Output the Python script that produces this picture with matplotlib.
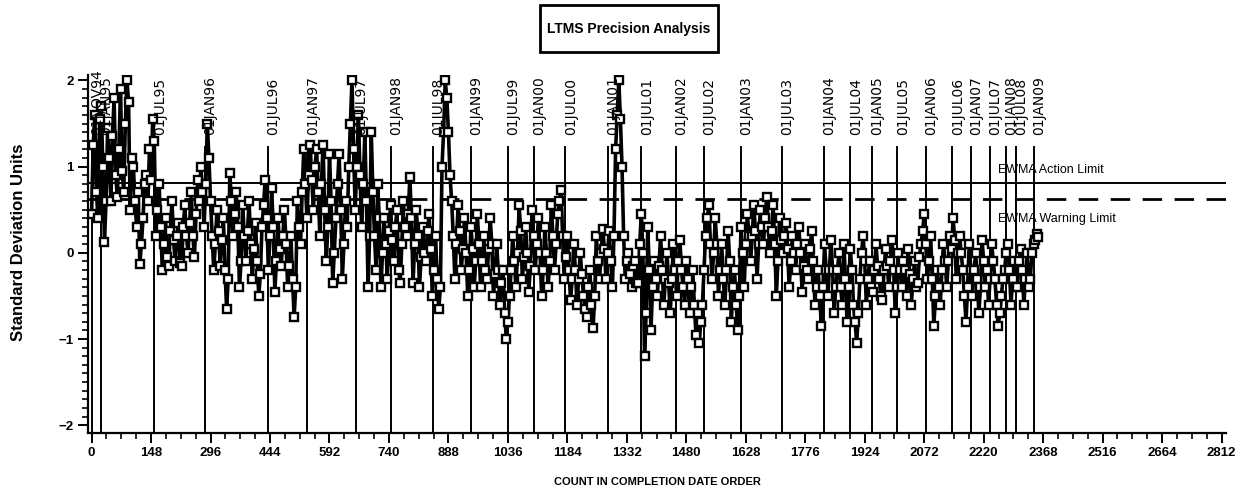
import numpy as np
import matplotlib
matplotlib.use("Agg")
import matplotlib.pyplot as plt
from matplotlib.patches import Rectangle

# EWMA precision index, one value every 4 tests in completion-date order
COUNT_STEP = 4
ewma_values = [
    0.45, 1.25, 1.60, 0.70, 0.40, 1.55, 1.70, 1.00, 0.12, 0.60, 1.45, 1.10, 0.60, 1.35, 1.80, 0.90, 0.65, 1.20, 1.90, 0.95,
    0.70, 1.50, 2.00, 1.75, 0.50, 1.10, 1.00, 0.60, 0.30, 0.70, -0.13, 0.10, 0.40, 0.80, 0.90, 0.60, 1.20, 0.85, 1.55, 1.30,
    0.20, 0.50, 0.80, 0.30, -0.20, 0.10, 0.40, -0.05, -0.15, 0.25, 0.60, 0.15, -0.10, 0.20, 0.35, -0.12, -0.15, 0.30, 0.55, 0.20,
    0.00, 0.35, 0.70, 0.20, -0.05, 0.45, 0.85, 0.60, 1.00, 0.70, 0.30, 0.80, 1.50, 1.10, 0.60, 0.20, -0.20, 0.10, 0.50, 0.25,
    -0.15, 0.15, 0.40, -0.20, -0.65, -0.30, 0.93, 0.60, 0.20, 0.45, 0.70, 0.30, -0.40, -0.10, 0.55, 0.20, -0.10, 0.25, 0.60, 0.10,
    -0.30, 0.05, 0.35, -0.10, -0.50, -0.25, 0.30, 0.55, 0.85, 0.40, -0.20, 0.20, 0.75, 0.30, -0.45, -0.10, 0.40, 0.05, -0.15, 0.20,
    0.50, 0.10, -0.40, -0.15, 0.20, -0.30, -0.75, -0.40, 0.60, 0.30, 0.10, 0.70, 1.20, 0.80, 0.40, 0.90, 1.25, 0.85, 0.50, 1.00,
    1.20, 0.70, 0.20, 0.80, 1.25, 0.50, -0.10, 0.30, 1.15, 0.60, -0.35, 0.00, 0.40, 0.80, 1.15, 0.50, -0.30, 0.10, 0.60, 0.30,
    1.00, 1.50, 2.00, 1.20, 0.50, 1.00, 1.60, 0.90, 0.30, 0.80, 1.40, 0.60, -0.40, 0.20, 1.40, 0.70, 0.20, -0.20, 0.80, 0.40,
    -0.40, 0.00, 0.40, 0.10, -0.30, 0.25, 0.55, 0.15, -0.10, 0.30, 0.50, -0.20, -0.35, 0.10, 0.60, 0.30, 0.20, 0.45, 0.88, 0.40,
    -0.35, 0.10, 0.50, 0.20, -0.40, -0.05, 0.30, 0.00, -0.10, 0.25, 0.45, 0.05, -0.50, -0.20, 0.20, -0.30, -0.65, -0.40, 1.00, 1.40,
    2.00, 1.80, 1.40, 0.90, 0.60, 0.20, -0.30, 0.10, 0.55, 0.25, -0.20, 0.05, 0.40, 0.00, -0.50, -0.20, 0.30, 0.05, -0.40, -0.10,
    0.45, 0.10, -0.40, -0.10, 0.20, -0.20, -0.30, 0.05, 0.40, 0.10, -0.50, -0.25, 0.10, -0.20, -0.60, -0.35, -0.20, -0.70, -1.00, -0.80,
    -0.50, -0.20, 0.20, -0.10, -0.40, 0.00, 0.55, 0.25, -0.30, -0.05, 0.30, 0.00, -0.45, -0.15, 0.50, 0.20, -0.20, 0.10, 0.40, 0.00,
    -0.50, -0.20, 0.30, 0.00, -0.40, -0.10, 0.55, 0.20, -0.20, 0.10, 0.45, 0.60, 0.73, 0.20, -0.30, -0.05, 0.20, -0.20, -0.55, -0.30,
    0.10, -0.20, -0.60, -0.30, 0.00, -0.25, -0.50, -0.65, -0.75, -0.40, -0.20, -0.60, -0.87, -0.50, 0.20, -0.10, -0.30, 0.00, 0.28, 0.05,
    -0.30, 0.00, 0.25, -0.10, -0.40, 0.20, 1.20, 1.60, 2.00, 1.55, 1.00, 0.20, -0.30, -0.10, 0.00, -0.25, -0.40, -0.15, -0.10, -0.35,
    -0.35, 0.10, 0.45, 0.00, -1.20, -0.70, 0.30, -0.20, -0.90, -0.40, -0.10, -0.30, -0.50, -0.15, 0.20, -0.20, -0.60, -0.30, 0.00, -0.35,
    -0.70, -0.30, 0.10, -0.20, -0.50, -0.10, 0.15, -0.20, -0.40, -0.60, -0.10, -0.30, -0.70, -0.40, -0.20, -0.60, -0.95, -0.70, -1.05, -0.80,
    -0.60, -0.20, 0.20, 0.40, 0.55, 0.10, -0.30, 0.00, 0.40, 0.10, -0.50, -0.20, 0.10, -0.30, -0.60, -0.20, 0.25, -0.10, -0.80, -0.40,
    -0.20, -0.60, -0.90, -0.50, 0.30, 0.00, -0.40, 0.10, 0.45, 0.20, -0.10, 0.20, 0.55, 0.25, -0.30, 0.10, 0.50, 0.30, 0.10, 0.40,
    0.65, 0.30, 0.00, 0.25, 0.55, 0.10, -0.50, -0.10, 0.40, 0.15, 0.00, 0.20, 0.35, 0.05, -0.40, -0.10, 0.20, 0.00, -0.20, 0.10,
    0.30, 0.00, -0.45, -0.15, 0.10, -0.20, -0.30, 0.05, 0.25, -0.10, -0.60, -0.40, -0.20, -0.50, -0.85, -0.40, 0.10, -0.20, -0.50, -0.20,
    0.15, -0.20, -0.70, -0.40, -0.20, 0.00, -0.40, -0.60, 0.10, -0.30, -0.80, -0.40, 0.05, -0.20, -0.60, -0.80, -1.05, -0.70, -0.30, 0.00,
    0.20, -0.10, -0.60, -0.30, -0.10, -0.40, -0.45, -0.20, 0.10, -0.15, -0.30, -0.50, -0.55, -0.20, 0.05, -0.15, -0.40, -0.10, 0.15, -0.20,
    -0.70, -0.40, 0.00, -0.20, -0.40, -0.10, -0.20, -0.50, 0.05, -0.25, -0.60, -0.30, -0.10, -0.40, -0.35, -0.05, 0.10, 0.25, 0.45, 0.10,
    -0.30, -0.10, 0.20, -0.30, -0.85, -0.50, -0.20, -0.40, -0.60, -0.20, 0.10, -0.10, -0.40, -0.10, 0.20, 0.05, 0.40, 0.15, -0.30, 0.00,
    0.20, 0.00, -0.20, -0.50, -0.80, -0.40, 0.10, -0.20, -0.50, -0.20, 0.00, -0.30, -0.70, -0.40, 0.15, -0.10, -0.40, -0.20, -0.60, -0.30,
    0.10, -0.10, -0.30, -0.60, -0.85, -0.70, -0.50, -0.30, -0.20, 0.00, 0.10, -0.20, -0.60, -0.30, -0.10, -0.40, -0.40, -0.10, 0.05, -0.20,
    -0.60, -0.30, 0.00, -0.40, -0.30, 0.00, 0.10, 0.15, 0.22, 0.18,
]

# Date boundaries: test count at which each period starts
date_labels = [
    "01NOV94", "01JAN95", "01JUL95", "01JAN96", "01JUL96", "01JAN97",
    "01JUL97", "01JAN98", "01JUL98", "01JAN99", "01JUL99", "01JAN00",
    "01JUL00", "01JAN01", "01JUL01", "01JAN02", "01JUL02", "01JAN03",
    "01JUL03", "01JAN04", "01JUL04", "01JAN05", "01JUL05", "01JAN06",
    "01JUL06", "01JAN07", "01JUL07", "01JAN08", "01JUL08", "01JAN09",
]
date_counts = [
    0, 23, 156, 282, 439, 537,
    657, 744, 850, 944, 1036, 1101,
    1179, 1284, 1368, 1454, 1523, 1616,
    1718, 1822, 1888, 1941, 2005, 2077,
    2142, 2188, 2235, 2276, 2300, 2344,
]

action_limit = 0.81
warning_limit = 0.63

x_ticks = list(range(0, 2813, 148))
y_ticks = [-2, -1, 0, 1, 2]

SANS = ["Liberation Sans", "DejaVu Sans"]

fig = plt.figure(figsize=(12.39, 4.95), dpi=100)
ax = fig.add_axes([0.071, 0.1253, 0.9185, 0.7232])

counts = np.arange(len(ewma_values)) * COUNT_STEP
ax.plot(counts, ewma_values, color="black", lw=2.6, marker="s",
        markersize=6, markerfacecolor="white", markeredgecolor="black",
        markeredgewidth=1.7, zorder=3)

# Limit lines
ax.axhline(action_limit, color="black", lw=1.4, zorder=2)
ax.axhline(warning_limit, color="black", lw=2.0, linestyle=(0, (7, 4.5)), zorder=2)
ax.text(2255, 0.96, "EWMA Action Limit", family=SANS, fontsize=9,
        ha="left", va="center")
ax.text(2255, 0.39, "EWMA Warning Limit", family=SANS, fontsize=9,
        ha="left", va="center")

# Date reference lines with rotated labels
for lab, c in zip(date_labels, date_counts):
    ax.vlines(c, -2.2, 1.24, color="black", lw=1.4, zorder=2)
    ax.text(c - 4, 1.37, lab, rotation=90, ha="left", va="bottom",
            fontsize=10, family="DejaVu Sans", clip_on=False)

ax.set_xlim(-9, 2823)
ax.set_ylim(-2.09, 2.063)
ax.set_xticks(x_ticks)
ax.set_xticks(np.arange(0, 2813, 37), minor=True)
ax.set_yticks(y_ticks)
ax.set_yticks(np.arange(-2.0, 2.01, 0.1), minor=True)

for lab in ax.get_xticklabels() + ax.get_yticklabels():
    lab.set_family(SANS)
    lab.set_fontweight("bold")
    lab.set_fontsize(9.5)

ax.tick_params(axis="both", which="major", length=7, width=1.4, color="black")
ax.tick_params(axis="both", which="minor", length=4, width=1.2, color="black")
ax.tick_params(axis="x", pad=3)

for side in ("top", "right"):
    ax.spines[side].set_visible(False)
for side in ("left", "bottom"):
    ax.spines[side].set_linewidth(1.6)

ax.set_xlabel("COUNT IN COMPLETION DATE ORDER", family=SANS,
              fontweight="bold", fontsize=8, labelpad=13)
fig.text(0.015, 0.51, "Standard Deviation Units", rotation=90,
         family=SANS, fontweight="bold", fontsize=12,
         ha="center", va="center")

# Boxed title
fig.patches.append(Rectangle((540 / 1239, 1 - 52 / 495), 178 / 1239, 47 / 495,
                             transform=fig.transFigure, fill=False,
                             edgecolor="black", lw=2.0))
fig.text(629 / 1239, 1 - 29 / 495, "LTMS Precision Analysis", family=SANS,
         fontweight="bold", fontsize=10, ha="center", va="center")

fig.savefig("out.png", dpi=100)
